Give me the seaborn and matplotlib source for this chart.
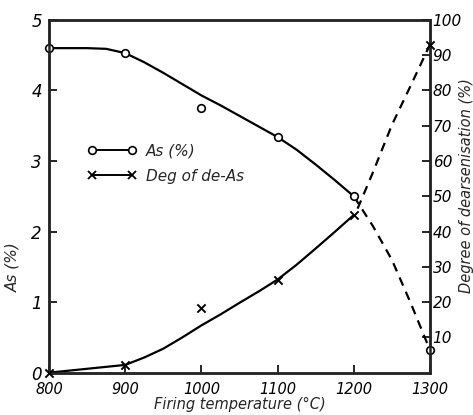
import matplotlib
matplotlib.use("Agg")
import matplotlib.pyplot as plt
from matplotlib.lines import Line2D
from matplotlib import font_manager
import seaborn as sns

# measured points
temps = [800, 900, 1000, 1100, 1200, 1300]
as_pct = [4.6, 4.53, 3.75, 3.34, 2.5, 0.32]
deg_deas = [0, 2.2, 18.3, 26.4, 44.7, 93]

# smoothed curves
as_curve_t = [800, 825, 850, 875, 900, 925, 950, 975, 1000, 1025, 1050, 1075, 1100, 1125, 1150, 1175, 1200]
as_curve_v = [4.6, 4.6, 4.6, 4.59, 4.53, 4.4, 4.25, 4.09, 3.93, 3.79, 3.64, 3.49, 3.34, 3.16, 2.95, 2.73, 2.5]
as_dash_t = [1200, 1225, 1250, 1275, 1300]
as_dash_v = [2.5, 2.08, 1.6, 0.98, 0.32]

deg_curve_t = [800, 850, 900, 925, 950, 975, 1000, 1025, 1050, 1075, 1100, 1125, 1150, 1175, 1200]
deg_curve_v = [0, 1.1, 2.2, 4.3, 6.8, 10.0, 13.4, 16.5, 19.8, 23.0, 26.4, 30.6, 35.2, 39.9, 44.7]
deg_dash_t = [1205, 1225, 1250, 1275, 1300]
deg_dash_v = [46.5, 56.7, 70.2, 81.5, 93]

x_ticks = [800, 900, 1000, 1100, 1200, 1300]
y_ticks = [0, 1, 2, 3, 4, 5]
y2_ticks = [10, 20, 30, 40, 50, 60, 70, 80, 90, 100]

sns.set_style("ticks")
names = {f.name for f in font_manager.fontManager.ttflist}
fam = ['Liberation Sans Narrow', 'DejaVu Sans'] if 'Liberation Sans Narrow' in names else ['DejaVu Sans']
plt.rcParams['font.family'] = fam
plt.rcParams['font.style'] = 'italic'

fig = plt.figure(figsize=(4.73, 4.15), dpi=100)
ax = fig.add_axes([0.1036, 0.102, 0.8054, 0.850])
ax2 = ax.twinx()

k = 'black'
sns.lineplot(x=as_curve_t, y=as_curve_v, ax=ax, color=k, lw=1.6)
sns.lineplot(x=as_dash_t, y=as_dash_v, ax=ax, color=k, lw=1.6, linestyle=(0, (4, 3)))
sns.scatterplot(x=temps, y=as_pct, ax=ax, marker='o', s=30, facecolor='white',
                edgecolor=k, linewidth=1.2, zorder=5, clip_on=False)

sns.lineplot(x=deg_curve_t, y=deg_curve_v, ax=ax2, color=k, lw=1.6)
sns.lineplot(x=deg_dash_t, y=deg_dash_v, ax=ax2, color=k, lw=1.6, linestyle=(0, (4, 3)))
sns.scatterplot(x=temps, y=deg_deas, ax=ax2, marker='x', s=35, color=k,
                linewidth=1.4, zorder=5, clip_on=False)

ax.set_xlim(800, 1300)
ax.set_ylim(0, 5)
ax2.set_ylim(0, 100)
ax.set_xticks(x_ticks)
ax.set_yticks(y_ticks)
ax2.set_yticks(y2_ticks)
ax.set_xticklabels([str(t) for t in x_ticks], fontsize=10.5)
ax.set_yticklabels([str(t) for t in y_ticks], fontsize=12)
ax2.set_yticklabels([str(t) for t in y2_ticks], fontsize=11)

for a in (ax, ax2):
    for s in a.spines.values():
        s.set_linewidth(1.8)
        s.set_visible(True)
    a.tick_params(direction='in', length=6, width=1.2, colors=k, pad=2)
ax.tick_params(axis='x', pad=7)
ax.tick_params(axis='y', pad=5)

ax.set_xlabel("Firing temperature (°C)", fontsize=10.5, labelpad=0)
ax.set_ylabel("As (%)", fontsize=11)
ax.yaxis.set_label_coords(-0.075, 0.3)
ax2.set_ylabel("Degree of dearsenisation (%)", fontsize=10.5, rotation=90)
ax2.yaxis.set_label_coords(1.075, 0.53)

handles = [
    Line2D([], [], color=k, lw=1.4, marker='o', markersize=5.5, markerfacecolor='white',
           markeredgecolor=k, markeredgewidth=1.2),
    Line2D([], [], color=k, lw=1.4, marker='x', markersize=5.5, markeredgewidth=1.3),
]
leg = ax.legend(handles, ["As (%)", "Deg of de-As"], numpoints=2, frameon=False,
                loc='upper left', bbox_to_anchor=(0.065, 0.69), fontsize=11,
                handlelength=3.2, handletextpad=0.6, labelspacing=0.7)

fig.savefig("out.png", dpi=100)
